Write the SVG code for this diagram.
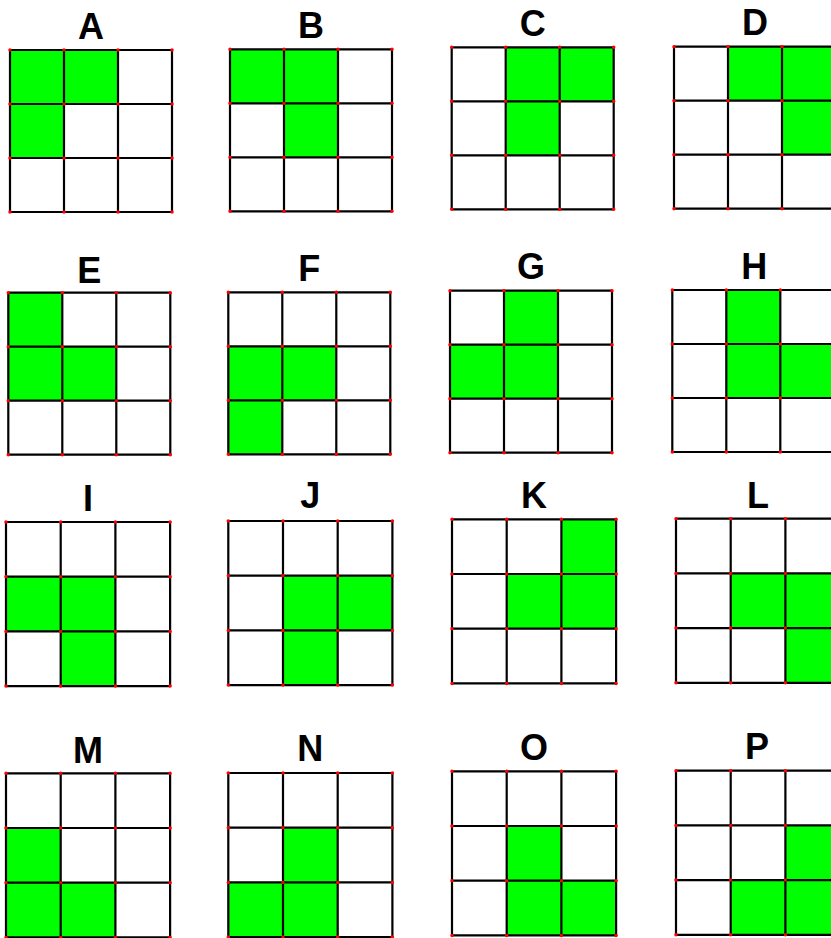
<svg xmlns="http://www.w3.org/2000/svg" xmlns:xlink="http://www.w3.org/1999/xlink" width="831" height="938" viewBox="0 0 831 938">
<style>
.g{fill:#00ff00}
.ln{fill:none;stroke:#000;stroke-width:2.2}
.dt{fill:none;stroke:#ff0000;stroke-width:3.5;stroke-linecap:round}
.lb{font-family:"Liberation Sans",Arial,sans-serif;font-weight:bold;font-size:36px;text-anchor:middle;fill:#000}
</style>
<defs>
<rect id="c1" class="g" width="54" height="54"/>
<rect id="c2" class="g" width="54.7" height="54.7"/>
<g id="g1">
<path class="ln" d="M0 0H162M0 54H162M0 108H162M0 162H162M0 0V162M54 0V162M108 0V162M162 0V162"/>
<path class="dt" d="M0 0h0M54 0h0M108 0h0M162 0h0M0 54h0M54 54h0M108 54h0M162 54h0M0 108h0M54 108h0M108 108h0M162 108h0M0 162h0M54 162h0M108 162h0M162 162h0"/>
</g>
<g id="g2">
<path class="ln" d="M0 0H164.1M0 54.7H164.1M0 109.4H164.1M0 164.1H164.1M0 0V164.1M54.7 0V164.1M109.4 0V164.1M164.1 0V164.1"/>
<path class="dt" d="M0 0h0M54.7 0h0M109.4 0h0M164.1 0h0M0 54.7h0M54.7 54.7h0M109.4 54.7h0M164.1 54.7h0M0 109.4h0M54.7 109.4h0M109.4 109.4h0M164.1 109.4h0M0 164.1h0M54.7 164.1h0M109.4 164.1h0M164.1 164.1h0"/>
</g>
</defs>
<rect width="831" height="938" fill="#fff"/>
<g id="connectors"/>
<g id="A" transform="translate(10,50)">
<use href="#c1" x="0" y="0"/><use href="#c1" x="54" y="0"/><use href="#c1" x="0" y="54"/>
<use href="#g1"/><text class="lb" x="81" y="-11.5">A</text></g>
<g id="B" transform="translate(230,49.3)">
<use href="#c1" x="0" y="0"/><use href="#c1" x="54" y="0"/><use href="#c1" x="54" y="54"/>
<use href="#g1"/><text class="lb" x="81" y="-11.5">B</text></g>
<g id="C" transform="translate(451.7,47.3)">
<use href="#c1" x="54" y="0"/><use href="#c1" x="108" y="0"/><use href="#c1" x="54" y="54"/>
<use href="#g1"/><text class="lb" x="81" y="-11.5">C</text></g>
<g id="D" transform="translate(674,46.7)">
<use href="#c1" x="54" y="0"/><use href="#c1" x="108" y="0"/><use href="#c1" x="108" y="54"/>
<use href="#g1"/><text class="lb" x="81" y="-11.5">D</text></g>
<g id="E" transform="translate(8.3,292.7)">
<use href="#c1" x="0" y="0"/><use href="#c1" x="0" y="54"/><use href="#c1" x="54" y="54"/>
<use href="#g1"/><text class="lb" x="81" y="-10">E</text></g>
<g id="F" transform="translate(228.3,292.3)">
<use href="#c1" x="0" y="54"/><use href="#c1" x="54" y="54"/><use href="#c1" x="0" y="108"/>
<use href="#g1"/><text class="lb" x="81" y="-11.5">F</text></g>
<g id="G" transform="translate(450,290.7)">
<use href="#c1" x="54" y="0"/><use href="#c1" x="0" y="54"/><use href="#c1" x="54" y="54"/>
<use href="#g1"/><text class="lb" x="81" y="-11.5">G</text></g>
<g id="H" transform="translate(672.3,290)">
<use href="#c1" x="54" y="0"/><use href="#c1" x="54" y="54"/><use href="#c1" x="108" y="54"/>
<use href="#g1"/><text class="lb" x="82" y="-11">H</text></g>
<g id="I" transform="translate(6,522)">
<use href="#c2" x="0" y="54.7"/><use href="#c2" x="54.7" y="54.7"/><use href="#c2" x="54.7" y="109.4"/>
<use href="#g2"/><text class="lb" x="82" y="-11.5">I</text></g>
<g id="J" transform="translate(228.3,521)">
<use href="#c2" x="54.7" y="54.7"/><use href="#c2" x="109.4" y="54.7"/><use href="#c2" x="54.7" y="109.4"/>
<use href="#g2"/><text class="lb" x="82" y="-13">J</text></g>
<g id="K" transform="translate(452,519.3)">
<use href="#c2" x="109.4" y="0"/><use href="#c2" x="54.7" y="54.7"/><use href="#c2" x="109.4" y="54.7"/>
<use href="#g2"/><text class="lb" x="82" y="-11.5">K</text></g>
<g id="L" transform="translate(676,518.7)">
<use href="#c2" x="54.7" y="54.7"/><use href="#c2" x="109.4" y="54.7"/><use href="#c2" x="109.4" y="109.4"/>
<use href="#g2"/><text class="lb" x="82" y="-10.5">L</text></g>
<g id="M" transform="translate(6,773.3)">
<use href="#c2" x="0" y="54.7"/><use href="#c2" x="0" y="109.4"/><use href="#c2" x="54.7" y="109.4"/>
<use href="#g2"/><text class="lb" x="82" y="-10.5">M</text></g>
<g id="N" transform="translate(228.3,773)">
<use href="#c2" x="54.7" y="54.7"/><use href="#c2" x="0" y="109.4"/><use href="#c2" x="54.7" y="109.4"/>
<use href="#g2"/><text class="lb" x="82" y="-12">N</text></g>
<g id="O" transform="translate(452,771.3)">
<use href="#c2" x="54.7" y="54.7"/><use href="#c2" x="54.7" y="109.4"/><use href="#c2" x="109.4" y="109.4"/>
<use href="#g2"/><text class="lb" x="82" y="-11.5">O</text></g>
<g id="P" transform="translate(676,770.7)">
<use href="#c2" x="109.4" y="54.7"/><use href="#c2" x="54.7" y="109.4"/><use href="#c2" x="109.4" y="109.4"/>
<use href="#g2"/><text class="lb" x="81" y="-12">P</text></g>
</svg>
